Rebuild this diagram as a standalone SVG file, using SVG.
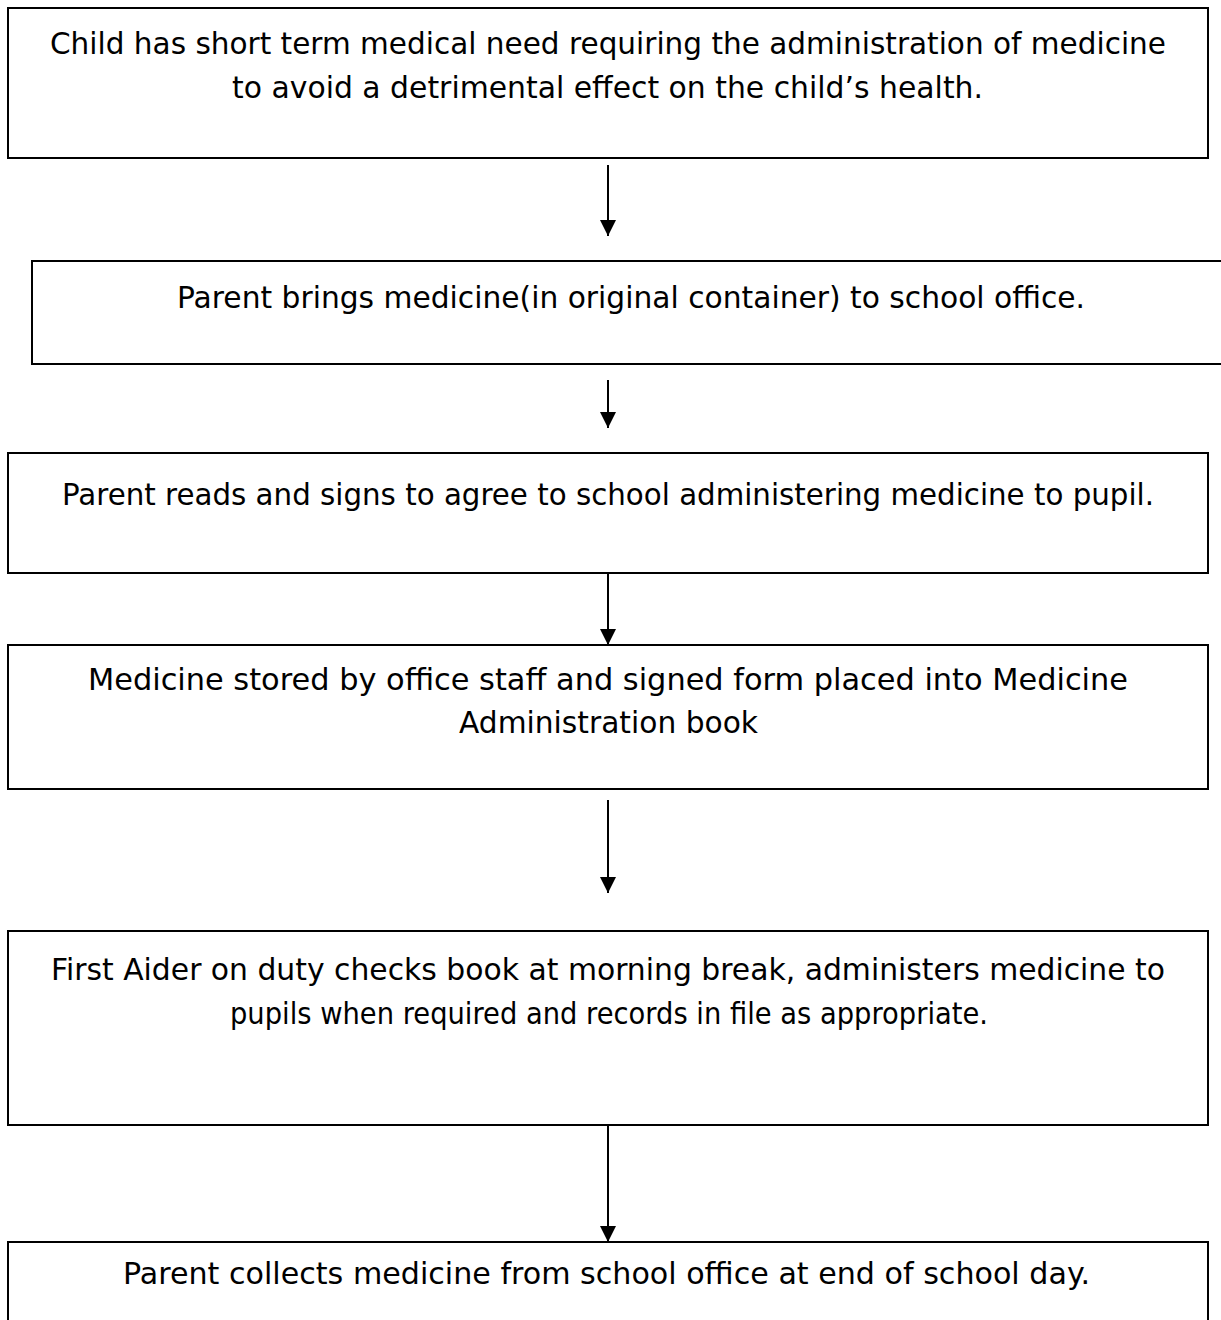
<svg xmlns="http://www.w3.org/2000/svg" width="1221" height="1320" viewBox="0 0 1221 1320">
<style>
.box{fill:#fff;stroke:#000;stroke-width:2}
.t{font-family:"Comic Sans MS","DejaVu Sans",sans-serif;font-size:30px;fill:#000;text-anchor:middle}
.c{stroke:#000;stroke-width:2;fill:none}
</style>
<defs>
<marker id="ah" viewBox="0 0 16 16" refX="16" refY="8" markerWidth="16" markerHeight="16" markerUnits="userSpaceOnUse" orient="auto">
<path d="M0,0 L16,8 L0,16 Z" fill="#000"/>
</marker>
</defs>
<rect width="1221" height="1320" fill="#fff"/>
<g id="n1">
<rect class="box" x="8" y="8" width="1200" height="150"/>
<text class="t" x="608" y="54" textLength="1116" lengthAdjust="spacingAndGlyphs">Child has short term medical need requiring the administration of medicine</text>
<text class="t" x="607.5" y="98" textLength="751" lengthAdjust="spacingAndGlyphs">to avoid a detrimental effect on the child’s health.</text>
</g>
<g id="n2">
<rect class="box" x="32" y="261" width="1200" height="103"/>
<text class="t" x="631" y="308" textLength="908" lengthAdjust="spacingAndGlyphs">Parent brings medicine(in original container) to school office.</text>
</g>
<g id="n3">
<rect class="box" x="8" y="453" width="1200" height="120"/>
<text class="t" x="608" y="505" textLength="1092" lengthAdjust="spacingAndGlyphs">Parent reads and signs to agree to school administering medicine to pupil.</text>
</g>
<g id="n4">
<rect class="box" x="8" y="645" width="1200" height="144"/>
<text class="t" x="608" y="690" textLength="1040" lengthAdjust="spacingAndGlyphs">Medicine stored by office staff and signed form placed into Medicine</text>
<text class="t" x="608.5" y="733" textLength="299" lengthAdjust="spacingAndGlyphs">Administration book</text>
</g>
<g id="n5">
<rect class="box" x="8" y="931" width="1200" height="194"/>
<text class="t" x="608" y="980" textLength="1114" lengthAdjust="spacingAndGlyphs">First Aider on duty checks book at morning break, administers medicine to</text>
<text class="t" x="609" y="1024" textLength="758" lengthAdjust="spacingAndGlyphs">pupils when required and records in file as appropriate.</text>
</g>
<g id="n6">
<rect class="box" x="8" y="1242" width="1200" height="100"/>
<text class="t" x="606.5" y="1284" textLength="967" lengthAdjust="spacingAndGlyphs">Parent collects medicine from school office at end of school day.</text>
</g>
<g id="connectors">
<line class="c" x1="608" y1="165" x2="608" y2="236" marker-end="url(#ah)"/>
<line class="c" x1="608" y1="380" x2="608" y2="428" marker-end="url(#ah)"/>
<line class="c" x1="608" y1="573" x2="608" y2="645" marker-end="url(#ah)"/>
<line class="c" x1="608" y1="800" x2="608" y2="893" marker-end="url(#ah)"/>
<line class="c" x1="608" y1="1125" x2="608" y2="1242" marker-end="url(#ah)"/>
</g>
</svg>
